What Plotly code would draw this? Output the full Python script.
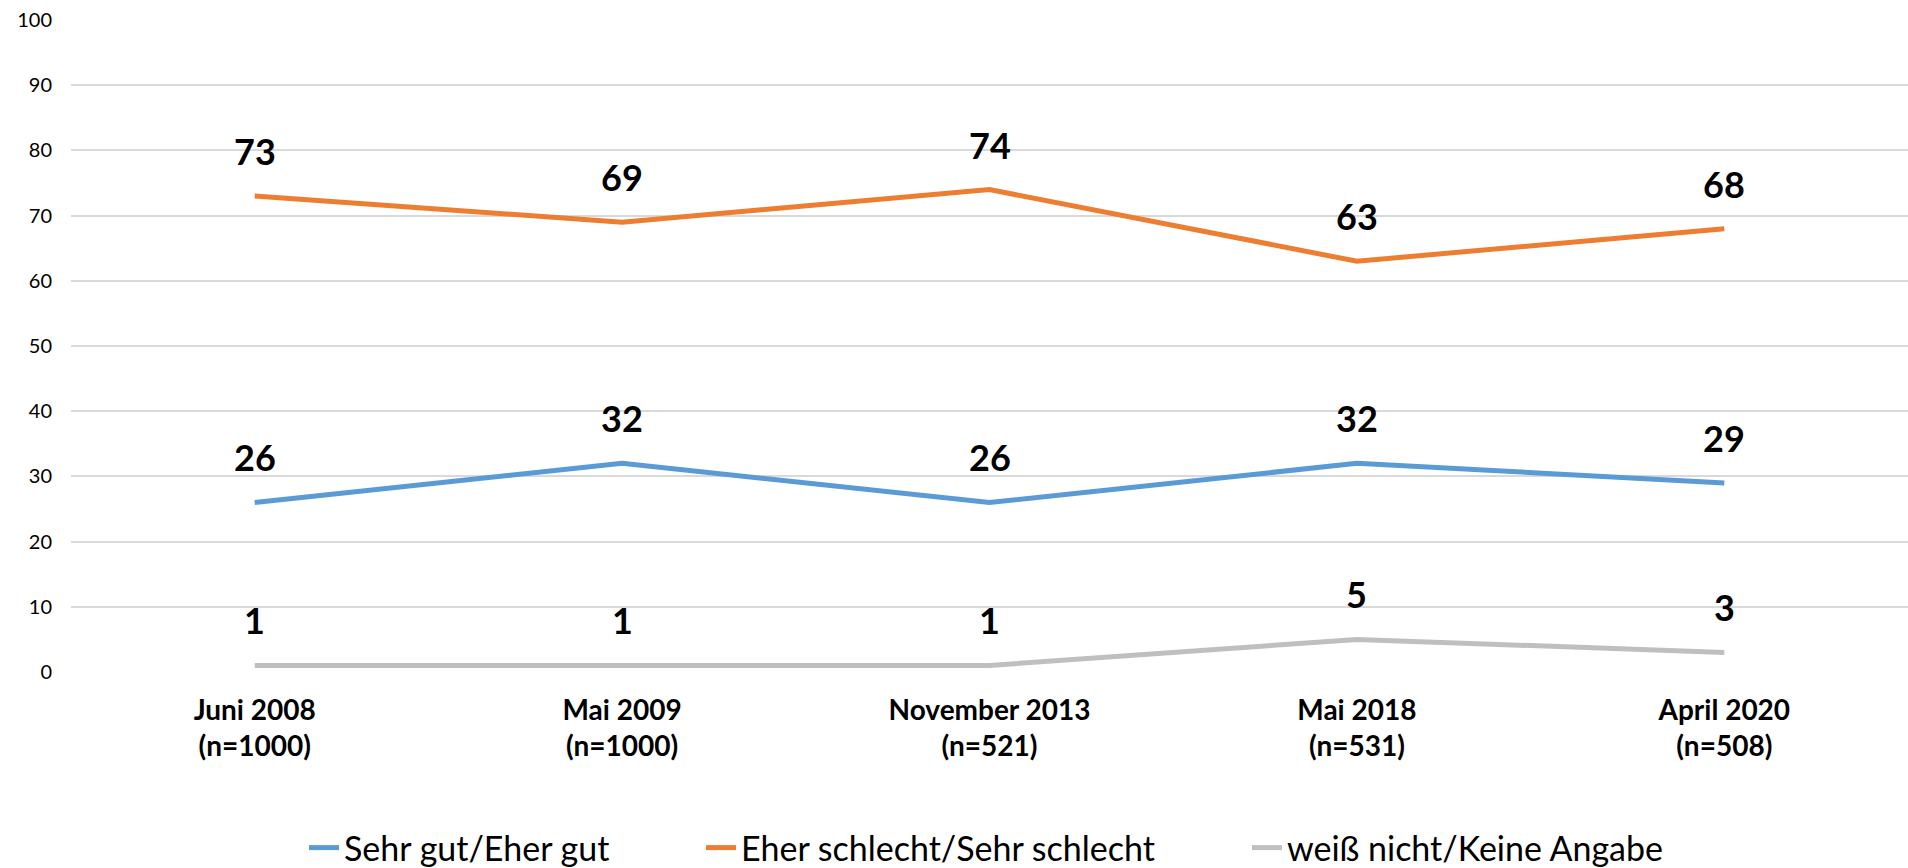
import plotly.graph_objects as go

categories = ["Juni 2008<br>(n=1000)", "Mai 2009<br>(n=1000)", "November 2013<br>(n=521)",
              "Mai 2018<br>(n=531)", "April 2020<br>(n=508)"]
gut = [26, 32, 26, 32, 29]
schlecht = [73, 69, 74, 63, 68]
weiss_nicht = [1, 1, 1, 5, 3]
series_names = ["Sehr gut/Eher gut", "Eher schlecht/Sehr schlecht", "weiß nicht/Keine Angabe"]
colors = ["#5B9BD5", "#ED7D31", "#BFBFBF"]
y_ticks = [0, 10, 20, 30, 40, 50, 60, 70, 80, 90, 100]

FONT = "Lato, 'Open Sans', sans-serif"

fig = go.Figure()
all_series = [gut, schlecht, weiss_nicht]
legend_ids = ["legend", "legend2", "legend3"]
for vals, name, col, lg in zip(all_series, series_names, colors, legend_ids):
    fig.add_trace(go.Scatter(
        x=categories, y=vals, name=name, mode="lines",
        line=dict(color=col, width=5), hoverinfo="skip", legend=lg))

annotations = []
for vals in all_series:
    for c, v in zip(categories, vals):
        annotations.append(dict(
            x=c, y=v, text=str(v), showarrow=False, yshift=45,
            xanchor="center", yanchor="middle",
            font=dict(family=FONT, size=36, color="#000000", weight="bold")))

legend_common = dict(orientation="h", xref="container", yref="container",
                     xanchor="left", yanchor="middle", y=1 - 848 / 868,
                     font=dict(family=FONT, size=34, color="#000000"),
                     bgcolor="rgba(0,0,0,0)", itemwidth=30)

fig.update_layout(
    width=1908, height=868,
    margin=dict(l=71, r=0, t=20, b=196),
    paper_bgcolor="white", plot_bgcolor="white",
    font=dict(family=FONT, color="#000000"),
    annotations=annotations,
    showlegend=True,
    legend=dict(**legend_common, x=304 / 1908),
    legend2=dict(**legend_common, x=701 / 1908),
    legend3=dict(**legend_common, x=1247 / 1908),
    xaxis=dict(
        type="category", range=[-0.5, 4.5], showgrid=False, zeroline=False,
        showline=False, ticks="", tickfont=dict(family=FONT, size=28, color="#000000", weight="bold"),
        ticklabelstandoff=19),
    yaxis=dict(
        range=[0, 100], tickvals=y_ticks, showgrid=True, gridcolor="#D9D9D9", gridwidth=2,
        zeroline=False, showline=False, ticks="",
        tickfont=dict(family=FONT, size=20, color="#000000"), ticklabelstandoff=18),
)

fig.write_html(
    "out.html",
    config={"displayModeBar": False},
    post_script="document.body.style.margin='0';document.body.style.overflow='hidden';",
)
